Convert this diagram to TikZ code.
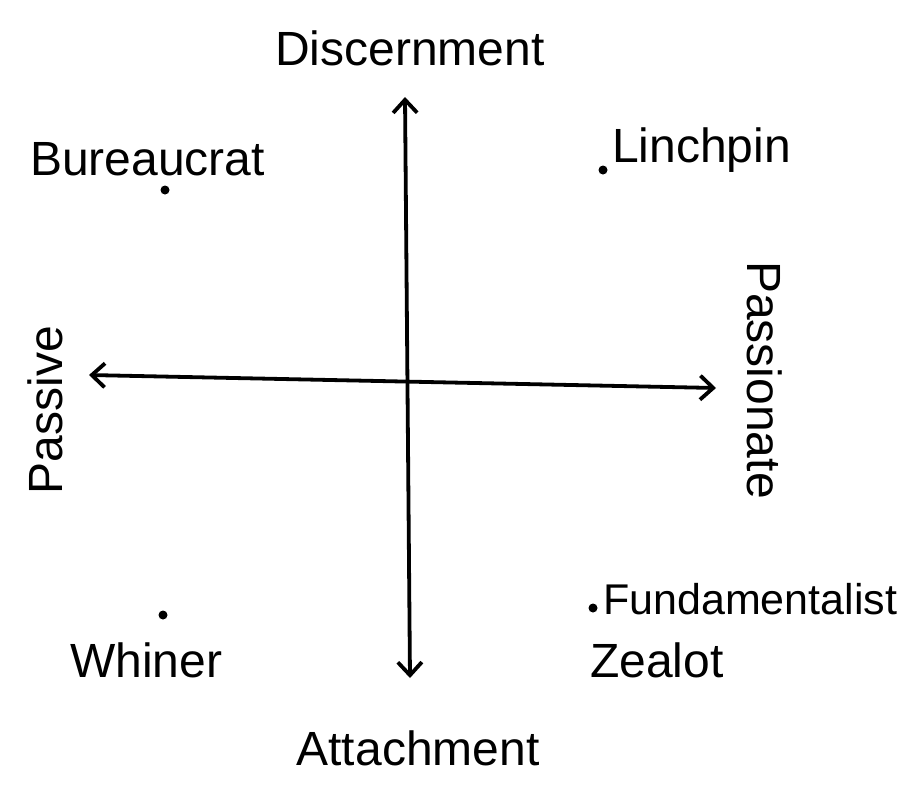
\documentclass[tikz,border=0pt]{standalone}
\usepackage{fontspec}
\setmainfont{Liberation Sans}
\usetikzlibrary{arrows.meta}
\begin{document}
\begin{tikzpicture}[x=1pt,y=-1pt,
  axis/.style={line width=3.8pt,{Straight Barb[length=13pt,width=24pt,line width=3.8pt]}-{Straight Barb[length=13pt,width=24pt,line width=3.8pt]}},
  lbl/.style={font=\fontsize{48}{52}\selectfont,inner sep=0pt},
  pt/.style={circle,fill=black,inner sep=0pt,minimum size=9pt}]
\useasboundingbox (0,0) rectangle (910,790);
\fill[white] (0,0) rectangle (910,790);
% axes endpoints
\coordinate (top) at (405,97);
\coordinate (bot) at (410,678);
\coordinate (left) at (89,375);
\coordinate (right) at (716,388);
\draw[axis] (top) -- (bot);
\draw[axis] (left) -- (right);
% axis labels
\node[lbl] (disc) at (410,48) {Discernment};
\node[lbl] (att) at (418,748) {Attachment};
\node[lbl,rotate=90] (pas) at (45,410) {Passive};
\node[lbl,rotate=-90] (pnate) at (765,380) {Passionate};
% points
\node[pt] (pb) at (165,190) {};
\node[lbl,anchor=base west] (bur) at (30,175) {Bureaucrat};
\node[pt] (pl) at (603,170) {};
\node[lbl,anchor=base west] (lin) at (612,162) {Linchpin};
\node[pt] (pw) at (163,615) {};
\node[lbl,anchor=base west] (whi) at (70,677) {Whiner};
\node[pt] (pf) at (593,608) {};
\node[lbl,anchor=base west,font=\fontsize{43}{48}\selectfont] (fun) at (603,614) {Fundamentalist};
\node[lbl,anchor=base west] (zea) at (590,677) {Zealot};
\end{tikzpicture}
\end{document}
